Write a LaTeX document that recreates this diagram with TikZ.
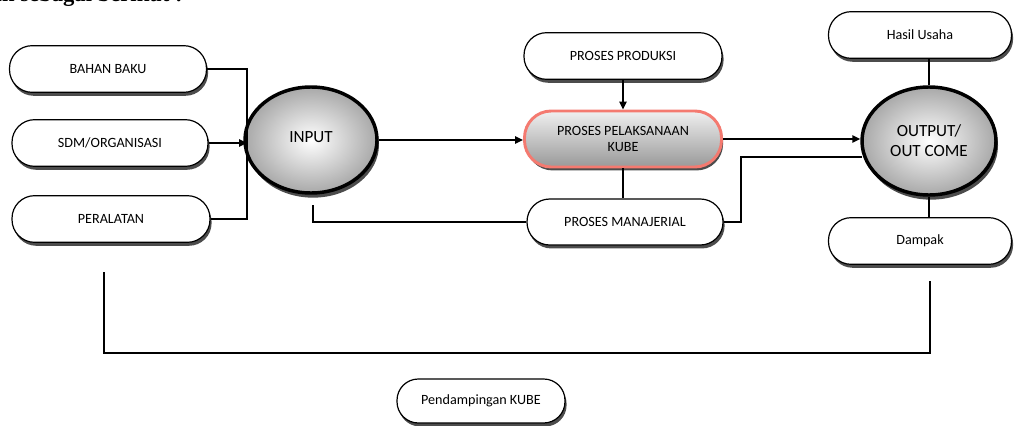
\documentclass[tikz,border=0pt]{standalone}
\usepackage{fontspec}
\setmainfont{Carlito}
\newfontfamily\headfont{Liberation Serif}
\usetikzlibrary{shapes.geometric,arrows.meta,shadows}
\definecolor{salmon}{HTML}{F47A70}
\tikzset{
  pill/.style={draw=black, line width=0.9pt, fill=white, rounded corners=17pt,
    minimum height=35pt, inner sep=0pt, align=center, font=\fontsize{10.6}{12}\selectfont,
    drop shadow={shadow xshift=1.2pt, shadow yshift=-2.6pt, fill=black!70, opacity=1}},
  bigell/.style={ellipse, draw=black, line width=2.6pt, inner sep=0pt,
    shading=radial, inner color=white, outer color=black!34, align=center,
    font=\fontsize{12.8}{15}\selectfont,
    drop shadow={shadow xshift=1.5pt, shadow yshift=-3.5pt, fill=black!70, opacity=1}},
  link/.style={draw=black, line width=1.1pt},
  arr/.style={link, -{Triangle[length=6pt,width=5.5pt]}}
}
\begin{document}
\begin{tikzpicture}[x=0.75pt, y=-0.75pt]
\useasboundingbox (0,0) rectangle (1014,425);
% clipped heading fragment
\node[anchor=base east, font=\headfont\bfseries\fontsize{17}{19}\selectfont, inner sep=0pt] (head) at (183,1) {adalah sebagai berikut :};

\node[pill, minimum width=147.75pt] (bahan) at (108,69) {BAHAN BAKU};
\node[pill, minimum width=147pt] (sdm) at (110,143) {SDM/ORGANISASI};
\node[pill, minimum width=148.5pt] (alat) at (111,219) {PERALATAN};

\node[bigell, minimum width=99pt, minimum height=79.5pt, text depth=4pt] (input) at (311,140) {INPUT};

\node[pill, minimum width=148.5pt] (prod) at (623,56) {PROSES PRODUKSI};
\node[pill, minimum width=147.75pt, minimum height=42pt, rounded corners=20pt,
      draw=salmon, line width=2.2pt, top color=black!6, bottom color=black!40,
      drop shadow={opacity=0}] (pel) at (623,139) {PROSES PELAKSANAAN\\KUBE};
\node[pill, minimum width=147pt, minimum height=34.5pt] (man) at (625,222) {PROSES MANAJERIAL};

\node[bigell, minimum width=100.5pt, minimum height=81pt] (out) at (929,141) {OUTPUT/\\OUT COME};
\node[pill, minimum width=137.25pt] (hasil) at (920,35) {Hasil Usaha};
\node[pill, minimum width=137.25pt] (dampak) at (920,241) {Dampak};

\node[pill, minimum width=126pt, minimum height=33pt, rounded corners=16pt] (damping) at (481,401) {Pendampingan KUBE};

% left joins
\coordinate (jb) at (247,219);
\draw[link] (bahan.east) -| (jb) -- (alat.east);
\draw[arr] (sdm.east) -- (sdm.east -| jb);
% input to process
\draw[arr] (input.east) -- (input.east -| pel.west);
\draw[arr] (prod.south) -- (pel.north);
\draw[link] (pel.south) -- (pel.south |- man.north);
\coordinate (ib) at (313,205);
\draw[link] (ib) |- (man.west);
% to output
\draw[arr] (pel.east) -- (pel.east -| out.west);
\coordinate (mj) at (741,157);
\coordinate (oa) at (862,157);
\draw[link] (man.east) -| (mj) -- (oa);
\draw[link] (out.north) -- (out.north |- hasil.south);
\draw[link] (out.south) -- (out.south |- dampak.north);
% bottom bracket
\coordinate (bl) at (104,272);
\coordinate (bl1) at (104,353);
\coordinate (br) at (930,281);
\draw[link] (bl) -- (bl1) -| (br);
\end{tikzpicture}
\end{document}
